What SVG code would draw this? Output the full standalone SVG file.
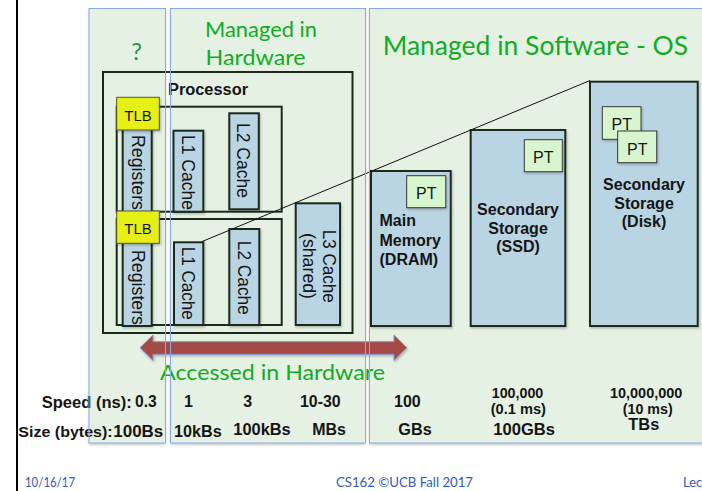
<svg xmlns="http://www.w3.org/2000/svg" width="702" height="491" viewBox="0 0 702 491">
  <style>
    .panel { fill: #e5f1e3; }
    .panel-edge { fill: none; stroke: #86a8ec; stroke-width: 1; }
    .frame { fill: none; stroke: #1b2a1b; stroke-width: 2; }
    .mem { fill: #b9d4e2; stroke: #1b2a1b; stroke-width: 2; }
    .pt { fill: #d7f6d0; stroke: #3a3a3a; stroke-width: 1; }
    .tlb { fill: #e6f014; stroke: #555533; stroke-width: 1; }
    .green { font-family: "Lato", "Open Sans", sans-serif; fill: #11ac24; }
    .lbl { font-family: "Liberation Sans", Arial, sans-serif; fill: #151515; }
    .b { font-weight: bold; }
    .rot { font-family: "Liberation Sans", Arial, sans-serif; font-size: 18px; fill: #151515; text-anchor: middle; }
    .mid { text-anchor: middle; }
    .foot { font-family: "Lato", "Open Sans", sans-serif; font-size: 13px; fill: #3557c8; }
  </style>
  <defs>
    <filter id="sh" x="-10%" y="-10%" width="130%" height="130%">
      <feDropShadow dx="1" dy="1.5" stdDeviation="1" flood-color="#000" flood-opacity="0.25"/>
    </filter>
    <filter id="psh" x="-5%" y="-5%" width="110%" height="110%">
      <feDropShadow dx="0" dy="2" stdDeviation="1.5" flood-color="#000" flood-opacity="0.2"/>
    </filter>
  </defs>

  <rect width="702" height="491" fill="#ffffff"/>
  <!-- slide edge -->
  <rect x="16" y="0" width="2" height="491" fill="#000"/>

  <!-- background panels -->
  <g id="panels" filter="url(#psh)">
    <rect class="panel" x="89" y="8.5" width="76.5" height="434.5"/>
    <rect class="panel" x="170.5" y="8.5" width="195" height="434.5"/>
    <rect class="panel" x="369.5" y="8.5" width="340" height="434.5"/>
  </g>

  <!-- panel headings -->
  <text class="green" x="136.5" y="60" font-size="24" text-anchor="middle" style="fill:#169a4e">?</text>
  <text class="green" x="205" y="36.7" font-size="22" textLength="112" lengthAdjust="spacingAndGlyphs">Managed in</text>
  <text class="green" x="205.5" y="65" font-size="22" textLength="100" lengthAdjust="spacingAndGlyphs">Hardware</text>
  <text class="green" x="382.7" y="55" font-size="26.5" textLength="305.5" lengthAdjust="spacingAndGlyphs">Managed in Software - OS</text>

  <!-- processor -->
  <g id="processor">
    <rect class="frame" x="103" y="72" width="249.5" height="261"/>
    <text class="lbl b" x="168" y="95" font-size="16" textLength="80" lengthAdjust="spacingAndGlyphs">Processor</text>
  </g>

  <!-- core 1 -->
  <g id="core1">
    <rect class="frame" x="116.7" y="106.7" width="165" height="105"/>
    <g id="registers1">
      <rect class="mem" x="122.7" y="125" width="29" height="87" filter="url(#sh)"/>
      <text class="rot" transform="translate(138.3,172.5) rotate(90)" y="6.4" textLength="75" lengthAdjust="spacingAndGlyphs">Registers</text>
    </g>
    <g id="tlb1">
      <rect class="tlb" x="116.7" y="97.3" width="42.6" height="32.7" filter="url(#sh)"/>
      <text class="lbl mid" x="138" y="120.7" font-size="15">TLB</text>
    </g>
    <g id="l1cache1">
      <rect class="mem" x="173.5" y="130.7" width="29.8" height="81" filter="url(#sh)"/>
      <text class="rot" transform="translate(188.3,172.5) rotate(90)" y="6.4" textLength="75" lengthAdjust="spacingAndGlyphs">L1 Cache</text>
    </g>
    <g id="l2cache1">
      <rect class="mem" x="229.3" y="113.3" width="29.5" height="96" filter="url(#sh)"/>
      <text class="rot" transform="translate(243.8,160.5) rotate(90)" y="6.4" textLength="75" lengthAdjust="spacingAndGlyphs">L2 Cache</text>
    </g>
  </g>

  <!-- core 2 -->
  <g id="core2">
    <rect class="frame" x="116.7" y="219" width="165" height="106"/>
    <g id="registers2">
      <rect class="mem" x="122.7" y="238" width="29" height="88" filter="url(#sh)"/>
      <text class="rot" transform="translate(138.3,287.5) rotate(90)" y="6.4" textLength="75" lengthAdjust="spacingAndGlyphs">Registers</text>
    </g>
    <g id="tlb2">
      <rect class="tlb" x="116.7" y="211" width="42.6" height="32.3" filter="url(#sh)"/>
      <text class="lbl mid" x="138" y="234" font-size="15">TLB</text>
    </g>
    <g id="l1cache2">
      <rect class="mem" x="174" y="242.3" width="29.3" height="82.7" filter="url(#sh)"/>
      <text class="rot" transform="translate(188.5,283.3) rotate(90)" y="6.4" textLength="73" lengthAdjust="spacingAndGlyphs">L1 Cache</text>
    </g>
    <g id="l2cache2">
      <rect class="mem" x="229.3" y="229" width="30" height="96" filter="url(#sh)"/>
      <text class="rot" transform="translate(244,277.8) rotate(90)" y="6.4" textLength="74" lengthAdjust="spacingAndGlyphs">L2 Cache</text>
    </g>
  </g>

  <!-- shared L3 -->
  <g id="l3cache">
    <rect class="mem" x="295.7" y="203.3" width="44.3" height="121.7" filter="url(#sh)"/>
    <text class="rot" transform="translate(329.7,266.3) rotate(90)" y="6.4" textLength="73" lengthAdjust="spacingAndGlyphs">L3 Cache</text>
    <text class="rot" transform="translate(309,266) rotate(90)" y="6.4" textLength="66" lengthAdjust="spacingAndGlyphs">(shared)</text>
  </g>

  <!-- main memory -->
  <g id="dram">
    <rect class="mem" x="371" y="171" width="79.7" height="155" filter="url(#sh)"/>
    <rect class="pt" x="406.7" y="175.7" width="39" height="32" filter="url(#sh)"/>
    <text class="lbl mid" x="426.2" y="199" font-size="16">PT</text>
    <text class="lbl b" font-size="16" x="379.5" y="226">Main</text>
    <text class="lbl b" font-size="16" x="379.5" y="245.5">Memory</text>
    <text class="lbl b" font-size="16" x="379.5" y="265">(DRAM)</text>
  </g>

  <!-- SSD -->
  <g id="ssd">
    <rect class="mem" x="470.7" y="130" width="94.6" height="196" filter="url(#sh)"/>
    <rect class="pt" x="524.3" y="139.7" width="38" height="32" filter="url(#sh)"/>
    <text class="lbl mid" x="543.3" y="162.8" font-size="16">PT</text>
    <text class="lbl b mid" font-size="16" x="518" y="215">Secondary</text>
    <text class="lbl b mid" font-size="16" x="518" y="233.5">Storage</text>
    <text class="lbl b mid" font-size="16" x="518" y="252">(SSD)</text>
  </g>

  <!-- disk -->
  <g id="disk">
    <rect class="mem" x="590" y="81.7" width="107.7" height="244.3" filter="url(#sh)"/>
    <rect class="pt" x="602.3" y="106.7" width="38.7" height="32.6" filter="url(#sh)"/>
    <text class="lbl mid" x="621.7" y="130" font-size="16">PT</text>
    <rect class="pt" x="617.7" y="131" width="39" height="31.7" filter="url(#sh)"/>
    <text class="lbl mid" x="637.2" y="155" font-size="16">PT</text>
    <text class="lbl b mid" font-size="16" x="644" y="190">Secondary</text>
    <text class="lbl b mid" font-size="16" x="644" y="208.5">Storage</text>
    <text class="lbl b mid" font-size="16" x="644" y="227">(Disk)</text>
  </g>

  <!-- connectors -->
  <g id="connectors">
    <line x1="201.7" y1="241.7" x2="590" y2="80.5" stroke="#111" stroke-width="1"/>
    <polygon points="140,347.7 153,335 153,341.7 394,341.7 394,335 406.7,347.7 394,360.5 394,354.3 153,354.3 153,360.5" fill="#a54a44" stroke="#7f98d6" stroke-width="1" filter="url(#sh)"/>
  </g>

  <text class="green" x="160" y="380" font-size="22" textLength="225" lengthAdjust="spacingAndGlyphs">Accessed in Hardware</text>

  <!-- speed / size table -->
  <g id="table" class="lbl b">
    <text x="41.7" y="407.5" font-size="16" textLength="90" lengthAdjust="spacingAndGlyphs">Speed (ns):</text>
    <text x="135" y="406.7" font-size="16" textLength="21.7" lengthAdjust="spacingAndGlyphs">0.3</text>
    <text x="184" y="407" font-size="16">1</text>
    <text x="243.3" y="407" font-size="16">3</text>
    <text x="300" y="407" font-size="16" textLength="40.7" lengthAdjust="spacingAndGlyphs">10-30</text>
    <text x="394" y="407.3" font-size="17" textLength="26.7" lengthAdjust="spacingAndGlyphs">100</text>
    <text x="491.7" y="398.3" font-size="14" textLength="51.6" lengthAdjust="spacingAndGlyphs">100,000</text>
    <text x="490.7" y="413.5" font-size="14" textLength="55.3" lengthAdjust="spacingAndGlyphs">(0.1 ms)</text>
    <text x="610" y="398.3" font-size="14" textLength="72.3" lengthAdjust="spacingAndGlyphs">10,000,000</text>
    <text x="622.7" y="413.5" font-size="14" textLength="50" lengthAdjust="spacingAndGlyphs">(10 ms)</text>

    <text x="18.3" y="437.3" font-size="15.5" textLength="94.4" lengthAdjust="spacingAndGlyphs">Size (bytes):</text>
    <text x="113.3" y="437.3" font-size="16" textLength="50" lengthAdjust="spacingAndGlyphs">100Bs</text>
    <text x="174" y="436.7" font-size="16" textLength="47.7" lengthAdjust="spacingAndGlyphs">10kBs</text>
    <text x="233.3" y="434.5" font-size="16" textLength="57.4" lengthAdjust="spacingAndGlyphs">100kBs</text>
    <text x="312.3" y="434.5" font-size="16" textLength="33.7" lengthAdjust="spacingAndGlyphs">MBs</text>
    <text x="398.3" y="435" font-size="17" textLength="33.4" lengthAdjust="spacingAndGlyphs">GBs</text>
    <text x="493.3" y="435" font-size="17" textLength="61.7" lengthAdjust="spacingAndGlyphs">100GBs</text>
    <text x="628.3" y="430" font-size="17" textLength="31" lengthAdjust="spacingAndGlyphs">TBs</text>
  </g>

  <!-- panel outlines drawn over the contents -->
  <g id="panel-edges">
    <rect class="panel-edge" x="89" y="8.5" width="76.5" height="434.5"/>
    <rect class="panel-edge" x="170.5" y="8.5" width="195" height="434.5"/>
    <rect class="panel-edge" x="369.5" y="8.5" width="340" height="434.5"/>
  </g>

  <!-- footer -->
  <text class="foot" x="25" y="487.3" textLength="50" lengthAdjust="spacingAndGlyphs">10/16/17</text>
  <text class="foot" x="336" y="487.3" textLength="137" lengthAdjust="spacingAndGlyphs">CS162 ©UCB Fall 2017</text>
  <text class="foot" x="683" y="487.3">Lec</text>
</svg>
